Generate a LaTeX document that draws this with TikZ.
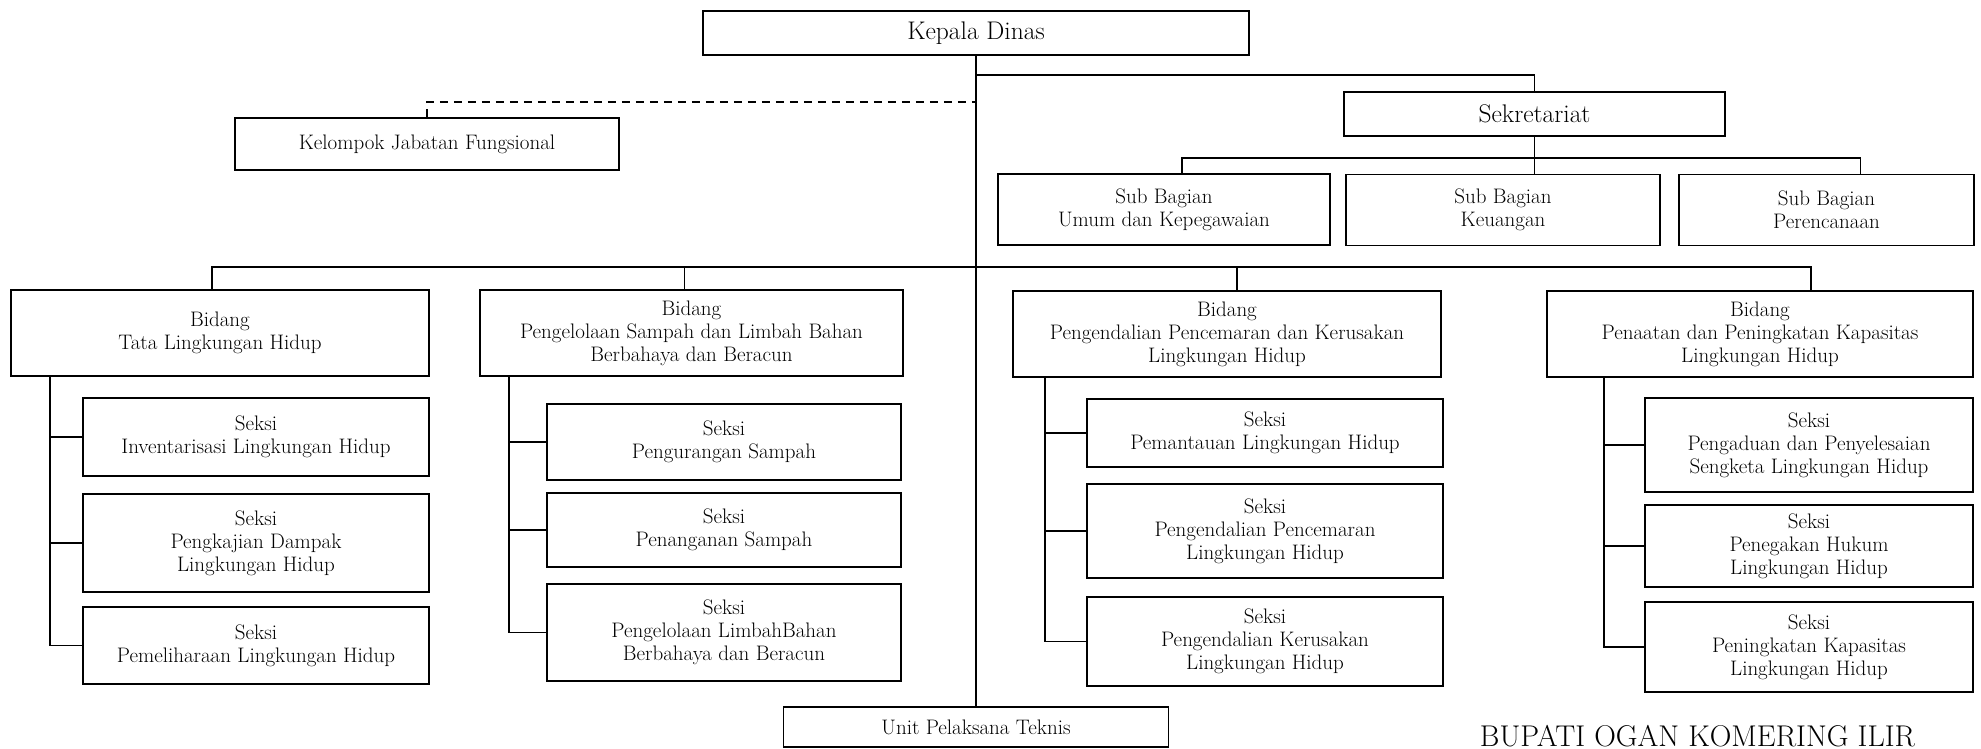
\documentclass[tikz,border=0pt]{standalone}
\usepackage{tikz}
\usetikzlibrary{positioning}

\begin{document}
\begin{tikzpicture}[x=1pt, y=-1pt, line width=1.7pt,
  box/.style={draw, rectangle, align=center, inner sep=2pt,
    font=\fontsize{21}{23}\selectfont},
  bigbox/.style={box, font=\fontsize{25.5}{30}\selectfont},
  dashline/.style={dash pattern=on 8pt off 6pt}]
\useasboundingbox (0,0) rectangle (1981,748);
\node[bigbox, minimum width=546, minimum height=44] (kadis) at (976, 33) {Kepala Dinas};
\node[bigbox, minimum width=381, minimum height=44] (sekr) at (1534.5, 114) {Sekretariat};
\node[box, minimum width=384, minimum height=52] (kjf) at (427, 144) {Kelompok Jabatan Fungsional};
\node[box, minimum width=332, minimum height=71] (sb1) at (1164, 209.5) {Sub Bagian\\Umum dan Kepegawaian};
\node[box, minimum width=314, minimum height=71] (sb2) at (1503, 210) {Sub Bagian\\Keuangan};
\node[box, minimum width=295, minimum height=71] (sb3) at (1826.5, 210) {Sub Bagian\\Perencanaan};
\node[box, minimum width=418, minimum height=86] (bid1) at (220, 333) {Bidang\\Tata Lingkungan Hidup};
\node[box, minimum width=423, minimum height=86] (bid2) at (691.5, 333) {Bidang\\Pengelolaan Sampah dan Limbah Bahan\\Berbahaya dan Beracun};
\node[box, minimum width=428, minimum height=86] (bid3) at (1227, 334) {Bidang\\Pengendalian Pencemaran dan Kerusakan\\Lingkungan Hidup};
\node[box, minimum width=426, minimum height=86] (bid4) at (1760, 334) {Bidang\\Penaatan dan Peningkatan Kapasitas\\Lingkungan Hidup};
\node[box, minimum width=346, minimum height=78] (s1a) at (256, 437) {Seksi\\Inventarisasi Lingkungan Hidup};
\node[box, minimum width=346, minimum height=98] (s1b) at (256, 543) {Seksi\\Pengkajian Dampak\\Lingkungan Hidup};
\node[box, minimum width=346, minimum height=77] (s1c) at (256, 645.5) {Seksi\\Pemeliharaan Lingkungan Hidup};
\node[box, minimum width=354, minimum height=76] (s2a) at (724, 442) {Seksi\\Pengurangan Sampah};
\node[box, minimum width=354, minimum height=74] (s2b) at (724, 530) {Seksi\\Penanganan Sampah};
\node[box, minimum width=354, minimum height=97] (s2c) at (724, 632.5) {Seksi\\Pengelolaan LimbahBahan\\Berbahaya dan Beracun};
\node[box, minimum width=356, minimum height=68] (s3a) at (1265, 433) {Seksi\\Pemantauan Lingkungan Hidup};
\node[box, minimum width=356, minimum height=94] (s3b) at (1265, 531) {Seksi\\Pengendalian Pencemaran\\Lingkungan Hidup};
\node[box, minimum width=356, minimum height=89] (s3c) at (1265, 641.5) {Seksi\\Pengendalian Kerusakan\\Lingkungan Hidup};
\node[box, minimum width=328, minimum height=94] (s4a) at (1809, 445) {Seksi\\Pengaduan dan Penyelesaian\\Sengketa Lingkungan Hidup};
\node[box, minimum width=328, minimum height=82] (s4b) at (1809, 546) {Seksi\\Penegakan Hukum\\Lingkungan Hidup};
\node[box, minimum width=328, minimum height=90] (s4c) at (1809, 647) {Seksi\\Peningkatan Kapasitas\\Lingkungan Hidup};
\node[box, minimum width=385, minimum height=40] (upt) at (976, 727) {Unit Pelaksana Teknis};
\node[anchor=base, font=\fontsize{30}{34}\selectfont] (bupati) at (1697.5, 746) {BUPATI OGAN KOMERING ILIR};
\coordinate (j1) at (976, 75);
\coordinate (j2) at (976, 102);
\coordinate (bsb) at (1534.5, 158);
\coordinate (bbid) at (976, 267);
\coordinate (sp1) at ([xshift=40]bid1.south west);
\coordinate (sp2) at ([xshift=30]bid2.south west);
\coordinate (sp3) at ([xshift=33]bid3.south west);
\coordinate (sp4) at ([xshift=58]bid4.south west);
\draw (kadis.south) -- (upt.north);
\draw (j1) -| (sekr.north);
\draw[dashline] (kjf.north) |- (j2);
\draw (sekr.south) -- (sekr.south |- sb2.north);
\draw ([xshift=18]sb1.north) |- (bsb) -| ([xshift=34]sb3.north);
\draw ([xshift=-8]bid1.north) |- (bbid) -| ([xshift=51]bid4.north);
\draw ([xshift=-7]bid2.north) -- ([xshift=-7]bid2.north |- bbid);
\draw ([xshift=10]bid3.north) -- ([xshift=10]bid3.north |- bbid);
\draw (sp1) |- (s1c.west);
\draw (s1a.west) -- (s1a.west -| sp1);
\draw (s1b.west) -- (s1b.west -| sp1);
\draw (sp2) |- (s2c.west);
\draw (s2a.west) -- (s2a.west -| sp2);
\draw (s2b.west) -- (s2b.west -| sp2);
\draw (sp3) |- (s3c.west);
\draw (s3a.west) -- (s3a.west -| sp3);
\draw (s3b.west) -- (s3b.west -| sp3);
\draw (sp4) |- (s4c.west);
\draw (s4a.west) -- (s4a.west -| sp4);
\draw (s4b.west) -- (s4b.west -| sp4);
\end{tikzpicture}
\end{document}
